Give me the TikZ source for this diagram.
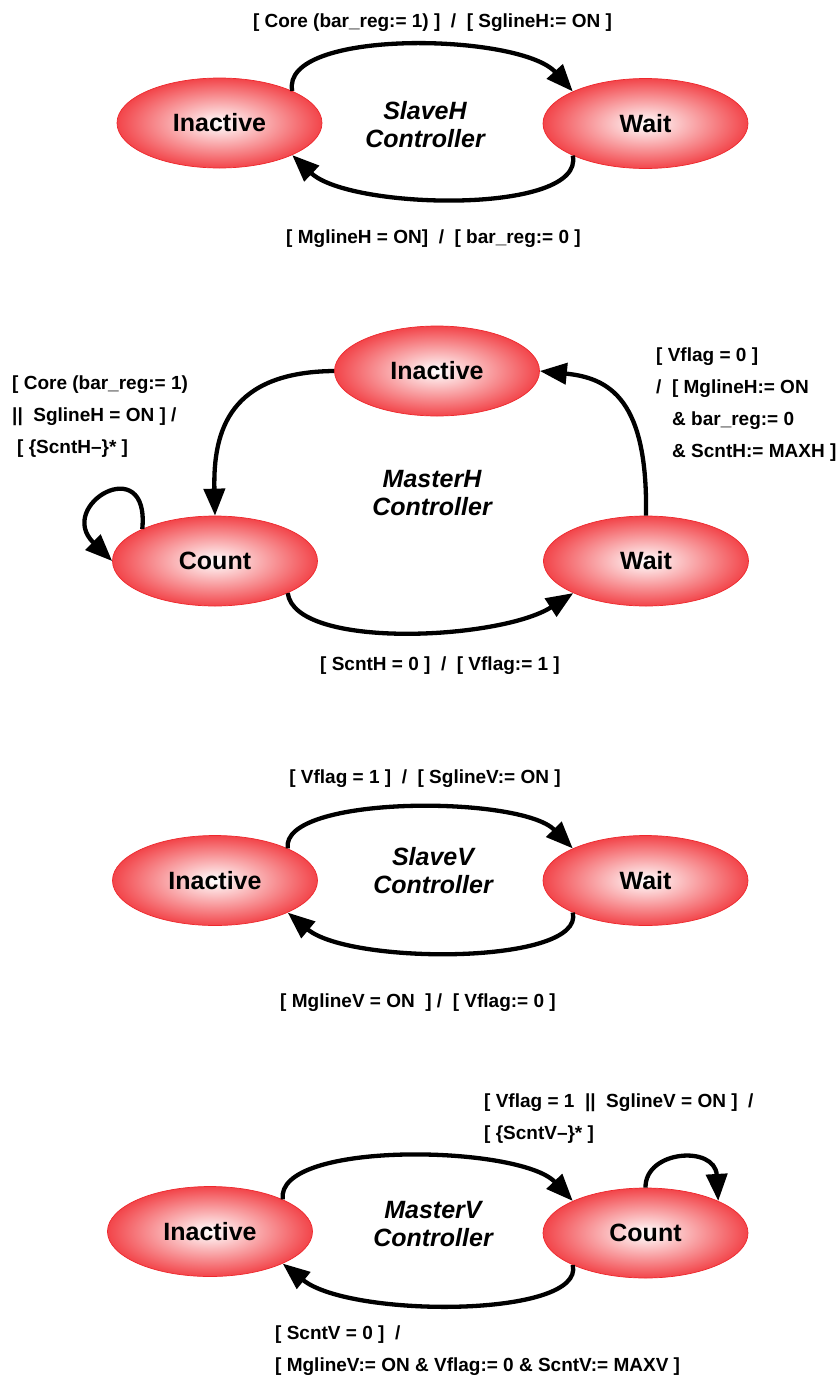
\documentclass[tikz,border=0pt]{standalone}
\usepackage{fontspec}
\setmainfont{Liberation Sans}
\usetikzlibrary{shapes.geometric,arrows.meta}
\pgfdeclarefunctionalshading{ellred}{\pgfpoint{-50bp}{-50bp}}{\pgfpoint{50bp}{50bp}}{}{
dup mul exch dup mul add sqrt 25 div dup 1 gt {pop 1} if
dup dup 0.05 mul 1 exch sub 3 1 roll 0.73 mul 1 exch sub exch 0.71 mul 1 exch sub
}
\newcommand\statefont{\bfseries\fontsize{25}{28}\selectfont}
\newcommand\ctrlfont{\bfseries\itshape\fontsize{25}{28}\selectfont}
\newcommand\labfont{\bfseries\fontsize{19}{32}\selectfont}
\definecolor{edgered}{RGB}{238,40,45}
\begin{document}
\begin{tikzpicture}[x=1pt,y=-1pt,
  state/.style={ellipse, minimum width=205pt, minimum height=90pt, inner sep=0pt,
    shading=ellred, draw=edgered, line width=0.7pt, font=\statefont},
  trans/.style={line width=4.3pt, -{Triangle[length=27pt,width=21pt]}},
  lab/.style={font=\labfont, inner sep=0pt, anchor=base, align=left},
  labw/.style={lab, anchor=base west},
  ctrl/.style={font=\ctrlfont, inner sep=0pt, anchor=base, align=center}]
\useasboundingbox[fill=white] (0,0) rectangle (840,1379);

% ---------- SlaveH ----------
\node[state] (I1) at (219.5,123) {Inactive};
\node[state] (W1) at (645.5,123.5) {Wait};
\node[ctrl] (c1) at (425,147) {SlaveH\\Controller};
\draw[trans] (I1.north east) .. controls (280,28) and (520,33) .. (W1.north west);
\draw[trans] (W1.south west) .. controls (585,215) and (350,210) .. (I1.south east);
\node[lab] (l1a) at (432.5,27) {[ Core (bar\_reg:= 1) ]\ \ /\ \ [ SglineH:= ON ]};
\node[lab] (l1b) at (433.5,243) {[ MglineH = ON]\ \ /\ \ [ bar\_reg:= 0 ]};

% ---------- MasterH ----------
\node[state] (I2) at (437,371) {Inactive};
\node[state] (C2) at (215,561) {Count};
\node[state] (W2) at (646,561) {Wait};
\node[ctrl] (c2) at (432,515) {MasterH\\Controller};
\draw[trans] (I2.west) .. controls (230,372) and (213,430) .. (C2.north);
\draw[trans] (W2.north) .. controls (648,400) and (610,378) .. (I2.east);
\draw[trans] (C2.north west) .. controls (150,450) and (55,505) .. (C2.west);
\draw[trans] (C2.south east) .. controls (295,650) and (500,640) .. (W2.south west);
\node[labw] (l2a) at (12,453) {[ Core (bar\_reg:= 1)\\||\ \ SglineH = ON ] /\\\hspace*{5pt}[ \{ScntH–\}* ]};
\node[labw] (l2b) at (656,457) {[ Vflag = 0 ]\\/\ \ [ MglineH:= ON\\\hspace*{16pt}\& bar\_reg:= 0\\\hspace*{16pt}\& ScntH:= MAXH ]};
\node[lab] (l2c) at (440,670) {[ ScntH = 0 ]\ \ /\ \ [ Vflag:= 1 ]};

% ---------- SlaveV ----------
\node[state] (I3) at (215,880.5) {Inactive};
\node[state] (W3) at (645.5,880.5) {Wait};
\node[ctrl] (c3) at (433,893) {SlaveV\\Controller};
\draw[trans] (I3.north east) .. controls (280,795) and (520,795) .. (W3.north west);
\draw[trans] (W3.south west) .. controls (585,965) and (350,965) .. (I3.south east);
\node[lab] (l3a) at (425,783) {[ Vflag = 1 ]\ \ /\ \ [ SglineV:= ON ]};
\node[lab] (l3b) at (418,1007) {[ MglineV = ON\ \ ] /\ \ [ Vflag:= 0 ]};

% ---------- MasterV ----------
\node[state] (I4) at (210,1231.5) {Inactive};
\node[state] (C4) at (645.5,1233) {Count};
\node[ctrl] (c4) at (433,1246) {MasterV\\Controller};
\draw[trans] (I4.north east) .. controls (275,1140) and (520,1145) .. (C4.north west);
\draw[trans] (C4.south west) .. controls (585,1318) and (350,1318) .. (I4.south east);
\draw[trans] (C4.north) .. controls (645,1150) and (715,1145) .. (C4.north east);
\node[labw] (l4a) at (484,1139) {[ Vflag = 1\ \ ||\ \ SglineV = ON ]\ \ /\\\relax[ \{ScntV–\}* ]};
\node[labw] (l4b) at (275,1371) {[ ScntV = 0 ]\ \ /\\\relax[ MglineV:= ON \& Vflag:= 0 \& ScntV:= MAXV ]};
\end{tikzpicture}
\end{document}
